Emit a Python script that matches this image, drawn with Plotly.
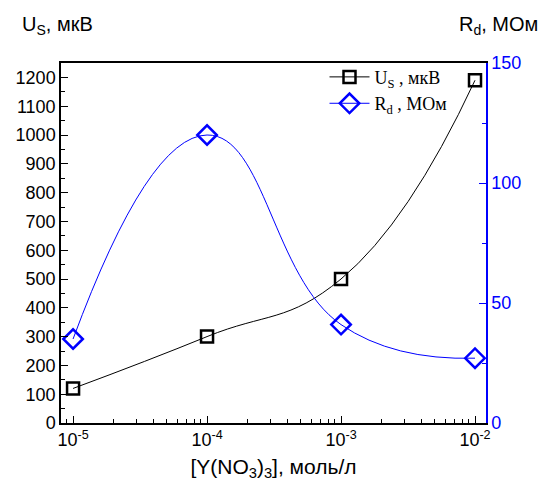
import plotly.graph_objects as go

# Concentration of Y(NO3)3, mol/L
concentration = [1e-5, 1e-4, 1e-3, 1e-2]
# Signal voltage U_S, µV (left axis)
u_s = [120, 300, 500, 1190]
# Resistance R_d, MOhm (right axis)
r_d = [35, 120, 41, 27]

x_tick_vals = [1e-5, 1e-4, 1e-3, 1e-2]
x_tick_text = ["10<sup>-5</sup>", "10<sup>-4</sup>", "10<sup>-3</sup>", "10<sup>-2</sup>"]
x_minor_vals = [m * 10.0 ** e for e in (-6, -5, -4, -3, -2) for m in range(2, 10)]

left_ticks = list(range(0, 1300, 100))
right_ticks = [0, 50, 100, 150]

BLUE = "#0000ff"
SANS = "Liberation Sans, Arial, sans-serif"
SERIF = "Liberation Serif, Times New Roman, serif"

fig = go.Figure()

fig.add_trace(go.Scatter(
    x=concentration, y=u_s,
    mode="lines+markers",
    name="U<sub>S</sub> , мкВ",
    line=dict(color="black", width=1, shape="spline", smoothing=1.3),
    marker=dict(symbol="square-open", size=12, color="black", line=dict(width=2.5)),
))

fig.add_trace(go.Scatter(
    x=concentration, y=r_d,
    mode="lines+markers",
    name="R<sub>d</sub> , МОм",
    yaxis="y2",
    line=dict(color=BLUE, width=1, shape="spline", smoothing=1.3),
    marker=dict(symbol="diamond-open", size=15, color=BLUE, line=dict(width=2.5)),
))

fig.update_layout(
    width=547, height=488,
    margin=dict(l=61, r=61, t=63, b=65),
    paper_bgcolor="white", plot_bgcolor="white",
    font=dict(family=SANS, size=18, color="black"),
    xaxis=dict(
        type="log", range=[-5.09, -1.918],
        tickvals=x_tick_vals, ticktext=x_tick_text,
        ticks="inside", ticklen=7, tickwidth=1, tickcolor="black",
        showline=True, linecolor="black", linewidth=1.5, mirror=True,
        showgrid=False, zeroline=False,
        minor=dict(tickvals=x_minor_vals, ticks="inside", ticklen=4,
                   tickcolor="black", showgrid=False),
        tickfont=dict(size=18),
        title=dict(text="[Y(NO<sub>3</sub>)<sub>3</sub>], моль/л",
                   font=dict(size=21), standoff=10),
    ),
    yaxis=dict(
        range=[0, 1250],
        tickvals=left_ticks,
        ticks="inside", ticklen=7, tickwidth=1, tickcolor="black",
        showline=True, linecolor="black", linewidth=1.5,
        showgrid=False, zeroline=False,
        minor=dict(dtick=50, ticks="inside", ticklen=4, tickcolor="black", showgrid=False),
        tickfont=dict(size=18),
    ),
    yaxis2=dict(
        overlaying="y", side="right",
        range=[0, 150],
        tickvals=right_ticks,
        ticks="inside", ticklen=7, tickwidth=1, tickcolor=BLUE,
        showline=True, linecolor=BLUE, linewidth=1.5,
        showgrid=False, zeroline=False,
        minor=dict(dtick=25, ticks="inside", ticklen=4, tickcolor=BLUE, showgrid=False),
        tickfont=dict(size=18, color=BLUE),
    ),
    legend=dict(
        x=0.62, y=1.012, xanchor="left", yanchor="top",
        bgcolor="rgba(0,0,0,0)", borderwidth=0,
        font=dict(family=SERIF, size=18, color="black"),
        itemwidth=40, tracegroupgap=0,
    ),
    showlegend=True,
)

fig.add_annotation(
    text="U<sub>S</sub>, мкВ", xref="paper", yref="paper",
    x=-0.096, y=1.105, xanchor="left", yanchor="middle",
    showarrow=False, font=dict(family=SANS, size=20, color="black"),
)
fig.add_annotation(
    text="R<sub>d</sub>, МОм", xref="paper", yref="paper",
    x=1.127, y=1.105, xanchor="right", yanchor="middle",
    showarrow=False, font=dict(family=SANS, size=20, color="black"),
)

fig.write_html("out.html")
